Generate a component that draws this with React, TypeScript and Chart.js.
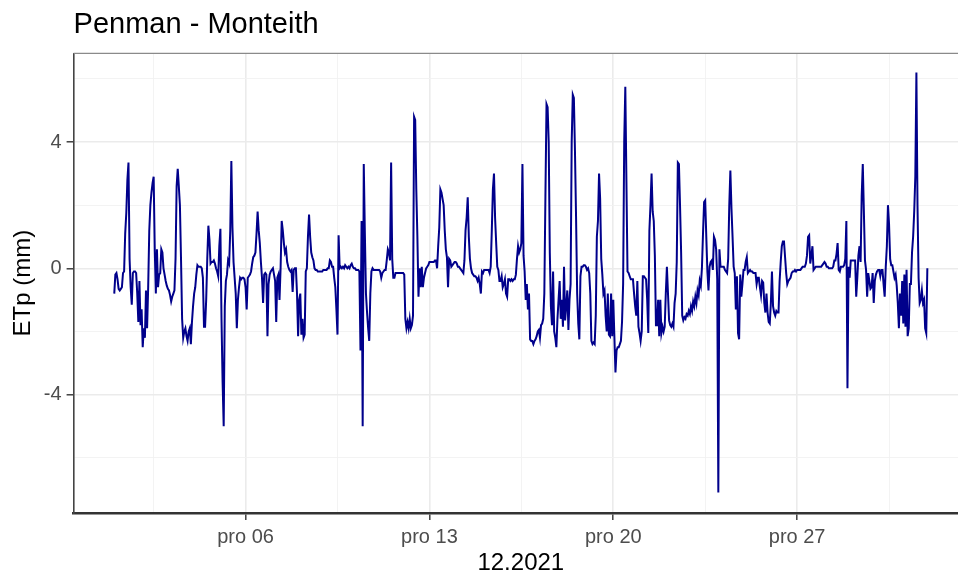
import { useEffect, useRef } from "react";
import { Chart, registerables } from "chart.js";

Chart.register(...registerables);

const TITLE = "Penman - Monteith";
const X_TITLE = "12.2021";
const Y_TITLE = "ETp (mm)";

// hourly ETp values (mm), starting 2021-12-01 00:00, one row per day
const STEP_HOURS = 1;

const week1 = [
  -0.8, -0.2, -0.15, -0.35, -0.65, -0.7, -0.65, -0.6, -0.15, -0.1, 1.1, 1.75, 2.8, 3.35, 0.3, -0.6, -1.15, -0.15, -0.1, -0.1, -0.15, -0.8, -1.7, -0.4,
  -1.8, -1.3, -2.5, -1.9, -2.2, -0.7, -1.9, -0.6, 1.2, 2.0, 2.4, 2.7, 2.9, 0.6, -0.8, 0.6, -0.6, -0.2, -0.15, 0.6, 0.5, 0.0, -0.2, -0.4,
  -0.55, -0.65, -0.7, -0.85, -1.05, -0.9, -0.8, -0.7, 0.3, 2.6, 3.15, 2.6, 2.0, 0.3, -1.6, -2.2, -2.0, -1.9, -2.15, -2.3, -2.0, -1.9, -2.4, -1.7,
  -1.2, -0.8, -0.6, -0.2, 0.1, 0.05, 0.05, 0.05, 0.0, -0.3, -1.85, -1.85, -1.0, 0.3, 1.35, 0.9, 0.15, 0.2, 0.2, 0.25, 0.15, 0.0, -0.1, -0.25,
  0.7, 1.25, -1.6, -3.6, -5.0, -1.2, -0.4, -0.2, 0.25, 0.15, 1.2, 3.4, 1.3, 0.2, -0.3, -0.8, -1.9, -1.0, -0.6, -0.3, -0.35, -0.3, -0.3, -0.35,
  -0.6, -1.3, -0.3, -0.25, -0.2, -0.1, 0.15, 0.35, 0.4, 0.5, 1.1, 1.8, 1.2, 0.8, 0.2, -0.3, -1.1, -0.2, -0.15, -0.2, -2.15, -0.5, -0.2, -0.1,
  -0.05, 0.0, -0.2, -0.4, -1.7, -0.3, -0.2, -1.0, 0.0, 1.5, 1.2, 0.8, 0.5, 0.6, 0.2, 0.05, -0.05, -0.1, -0.05, -0.75, -0.05, 0.0, 0.0, -0.8,
];

const week2 = [
  -2.15, -1.0, -0.8, -2.1, -1.6, -2.2, -2.1, -0.1, 0.0, 1.0, 1.7, 1.0, 0.5, 0.35, 0.25, 0.0, -0.05, -0.05, -0.1, -0.1, -0.1, -0.1, -0.1, -0.05,
  -0.05, -0.05, -0.05, 0.0, 0.0, 0.25, 0.2, 0.05, 0.05, -0.3, -0.6, -1.3, -2.1, 1.05, 0.0, 0.05, 0.0, 0.05, 0.0, 0.1, 0.05, 0.0, 0.05, 0.0,
  0.1, 0.15, 0.05, 0.0, 0.0, -0.05, -0.05, -0.05, -0.1, -2.6, 1.5, -5.0, 3.3, 1.1, -0.8, -1.4, -1.9, -2.3, -0.8, -0.1, 0.0, -0.05, -0.05, -0.05,
  -0.05, -0.05, -0.05, -0.1, -0.3, -0.15, -0.1, -0.05, -0.05, 0.25, 0.6, 0.5, 0.25, 3.35, 0.3, -0.3, -0.3, -0.15, -0.15, -0.15, -0.15, -0.15, -0.15, -0.15,
  -0.15, -0.2, -1.6, -1.9, -1.7, -1.9, -1.6, -1.9, -1.8, -1.5, 4.8, 4.7, 2.5, 1.0, -0.9, 0.0, -0.6, 0.05, -0.6, -0.3, -0.15, 0.0, 0.05, 0.1,
  0.2, 0.2, 0.2, 0.2, 0.2, 0.25, 0.25, 0.0, 0.7, 1.3, 2.5, 2.4, 2.2, 2.0, 1.2, 0.6, 0.35, -0.6, 0.3, 0.25, 0.05, 0.1, 0.15, 0.2,
  0.2, 0.15, 0.05, 0.05, 0.0, -0.05, -0.1, -0.15, 0.25, 1.2, 1.6, 2.25, 1.0, 0.3, 0.0, -0.15, -0.2, -0.25, -0.25, -0.3, -0.4, -0.3, -0.5, -0.8,
];

const week3 = [
  -0.1, -0.15, -0.05, -0.05, -0.05, -0.05, -0.05, -0.15, 0.05, 1.2, 2.5, 3.0, 1.6, 0.8, 0.05, -0.05, -0.4, -0.4, -0.25, -0.6, -0.5, -0.35, -0.8, -0.9,
  -0.35, -0.35, -0.4, -0.35, -0.4, -0.35, -0.35, -0.2, 0.3, 0.7, 0.5, 0.6, 0.8, 3.3, 0.4, -0.1, -1.0, -0.5, -1.3, -0.8, -2.25, -2.3, -2.3, -2.4,
  -2.3, -2.25, -2.15, -2.0, -1.95, -2.2, -1.8, -1.75, -1.6, -0.8, 2.3, 5.2, 5.1, 4.0, 0.5, -1.2, -1.8, -0.1, -2.0, -2.2, -2.5, -1.6, -1.0, -0.4,
  -1.6, -1.0, -1.85, 0.05, -1.65, -1.2, -0.7, -1.95, -1.0, -0.5, 4.0, 5.5, 5.4, 3.7, 1.6, -0.8, -1.75, -2.25, -0.25, 0.05, 0.05, 0.1, 0.1, 0.05,
  -0.05, 0.0, -0.15, -0.8, -2.3, -2.4, -2.35, -2.4, -1.5, 1.0, 1.5, 3.0, 2.2, 0.3, -0.2, -0.8, -0.7, -1.5, -2.0, -0.8, -2.1, -2.15, -0.8, -2.15,
  -1.0, -2.15, -3.3, -2.6, -2.5, -2.5, -2.4, -2.3, -1.7, -0.5, 4.0, 5.75, 2.8, -0.1, -0.15, -0.25, -0.35, -0.35, -0.35, -0.8, -1.2, -1.5, -0.4, -1.85,
  -2.05, -2.3, -2.0, -0.25, -0.25, -0.3, -0.35, -1.0, -2.05, 1.2, 2.0, 3.0, 1.8, 1.5, 0.4, -1.8, -1.8, -1.0, -2.15, -1.0, -2.05, -1.85, -2.0, -1.85,
];

const week4 = [
  -0.8, 0.05, -0.8, -1.65, -1.8, -1.85, -1.75, -1.85, -1.1, -0.8, 0.2, 3.35, 3.3, 2.0, 0.5, -1.5, -1.65, -1.55, -1.6, -1.45, -1.5, -1.35, -1.45, -1.2,
  -1.35, -1.05, -1.2, -0.9, -1.1, -0.7, -0.85, -0.4, -0.55, 0.0, 1.1, 2.1, 2.15, 1.0, -0.1, -0.7, 0.05, 0.2, 0.25, -0.05, 1.0, 0.9, 0.6, -0.35,
  -7.1, 0.6, 0.05, 0.05, 0.05, 0.05, -0.05, -0.1, -0.15, 0.3, 2.0, 3.1, 1.9, 1.0, 0.05, -0.15, -1.3, -0.25, -2.05, -2.25, -0.2, -0.9, -0.5, -0.05,
  -0.05, 0.2, 0.35, -0.15, -0.1, -0.05, -0.1, -0.1, -0.15, -0.15, -0.15, -0.5, -0.3, -0.3, -0.6, -0.85, -0.4, -0.45, -1.1, -1.4, -0.8, -1.4, -1.7, -1.75,
  -1.1, -0.1, -1.2, -1.4, -1.5, -1.35, -1.4, -1.4, -0.4, 0.2, 0.7, 0.85, 0.85, 0.35, -0.15, -0.5, -0.4, -0.35, -0.3, -0.15, -0.1, -0.1, -0.05, -0.1,
  -0.05, -0.05, -0.05, -0.05, 0.0, 0.05, 0.05, 0.05, 0.15, 0.4, 1.0, 1.05, 0.15, 0.4, 0.7, -0.05, 0.0, 0.05, 0.05, 0.05, 0.05, 0.05, 0.05, 0.1,
  0.15, 0.2, 0.15, 0.05, 0.05, 0.0, 0.0, 0.0, 0.0, 0.05, 0.25, 0.25, 0.45, 0.8, -0.05, -0.1, 0.05, 0.05, 0.05, 0.1, 0.3, 1.5, -3.8, 0.05,
];

const week5 = [
  -0.3, 0.25, 0.25, 0.25, 0.25, 0.25, -0.9, -0.3, 0.4, 0.7, 0.2, 2.3, 3.3, 1.8, 0.25, -0.05, -0.9, -0.15, -0.4, -0.65, -0.6, -0.15, -1.1, -0.4,
  -0.2, -0.1, -0.05, -0.05, -0.25, -0.05, -0.05, -0.5, -0.9, 0.05, 0.7, 2.0, 1.4, 0.3, 0.1, 0.1, -0.1, -0.3, -0.2, -0.55, -1.1, -1.9, -0.8, -1.5,
  -0.4, -1.75, -0.2, -1.85, -0.05, -2.15, -1.9, -0.5, -0.5, 0.5, 1.0, 1.8, 2.9, 6.2, 2.0, -0.3, -1.1, -1.0, -0.7, -1.1, -1.0, -1.9, -2.05, 0.0,
];

// x axis: day-of-month breaks and their labels
const majorDays = [6, 13, 20, 27];
const majorLabels = ["pro 06", "pro 13", "pro 20", "pro 27"];
// y axis breaks
const yMajor = [-4, 0, 4];
const yMinor = [-6, -2, 2, 6];

const FONT = "'Liberation Sans', Arial, Helvetica, sans-serif";

export default function App() {
  const ref = useRef<HTMLCanvasElement>(null);

  useEffect(() => {
    if (!ref.current) return;
    const values = [...week1, ...week2, ...week3, ...week4, ...week5];
    const points = values.map((v, i) => ({ x: i * STEP_HOURS, y: v }));

    const majorHours = majorDays.map((d) => (d - 1) * 24);
    const weekH = 7 * 24;
    const minorHours = [majorHours[0] - weekH / 2, ...majorHours.map((h) => h + weekH / 2)];
    const xTicks = [...majorHours, ...minorHours].sort((a, b) => a - b);
    const yTicks = [...yMajor, ...yMinor].sort((a, b) => a - b);

    const isXMajor = (v: number) => majorHours.includes(v);
    const isYMajor = (v: number) => yMajor.includes(v);

    const panelTop = {
      id: "panelTop",
      afterDatasetsDraw(chart: any) {
        const { ctx, chartArea } = chart;
        ctx.save();
        ctx.strokeStyle = "#8a8a8a";
        ctx.lineWidth = 1.2;
        ctx.beginPath();
        ctx.moveTo(chartArea.left, chartArea.top);
        ctx.lineTo(chartArea.right, chartArea.top);
        ctx.stroke();
        ctx.restore();
      },
    };

    const chart = new Chart(ref.current, {
      type: "line",
      data: {
        datasets: [
          {
            data: points,
            borderColor: "#00008B",
            borderWidth: 2,
            pointRadius: 0,
            fill: false,
            tension: 0,
          },
        ],
      },
      options: {
        animation: false,
        responsive: false,
        events: [],
        layout: { padding: { left: 0, right: 8, top: 0, bottom: 0 } },
        plugins: {
          legend: { display: false },
          tooltip: { enabled: false },
          title: {
            display: true,
            text: TITLE,
            align: "start",
            fullSize: false,
            color: "#000000",
            font: { family: FONT, size: 29, weight: "normal", lineHeight: 1.2 },
            padding: { top: 7.6, bottom: 10.9 },
          },
        },
        scales: {
          x: {
            type: "linear",
            min: -37.15,
            max: 780.15,
            afterBuildTicks: (s: any) => {
              s.ticks = xTicks.map((value) => ({ value }));
            },
            afterFit: (s: any) => {
              s.height = 65;
            },
            ticks: {
              autoSkip: false,
              maxRotation: 0,
              minRotation: 0,
              padding: 5,
              color: "#4d4d4d",
              font: { family: FONT, size: 20 },
              callback: (v: any) => {
                const i = majorHours.indexOf(Number(v));
                return i >= 0 ? majorLabels[i] : "";
              },
            },
            grid: {
              color: (c: any) => (c.tick && isXMajor(c.tick.value) ? "#ebebeb" : "#f2f2f2"),
              lineWidth: (c: any) => (c.tick && isXMajor(c.tick.value) ? 1.6 : 0.9),
              tickLength: 7,
              tickWidth: 1.4,
              tickColor: (c: any) => (c.tick && isXMajor(c.tick.value) ? "#333333" : "rgba(0,0,0,0)"),
            },
            border: { display: true, color: "#333333", width: 2.5 },
            title: {
              display: true,
              text: X_TITLE,
              color: "#000000",
              font: { family: FONT, size: 24, lineHeight: 1.2 },
              padding: { top: 0, bottom: 0 },
            },
          },
          y: {
            type: "linear",
            min: -7.75,
            max: 6.81,
            afterBuildTicks: (s: any) => {
              s.ticks = yTicks.map((value) => ({ value }));
            },
            afterFit: (s: any) => {
              s.width = 73.6;
            },
            ticks: {
              autoSkip: false,
              padding: 5,
              color: "#4d4d4d",
              font: { family: FONT, size: 20 },
              callback: (v: any) => (isYMajor(Number(v)) ? String(v) : ""),
            },
            grid: {
              color: (c: any) => (c.tick && isYMajor(c.tick.value) ? "#ebebeb" : "#f2f2f2"),
              lineWidth: (c: any) => (c.tick && isYMajor(c.tick.value) ? 1.6 : 0.9),
              tickLength: 7,
              tickWidth: 1.4,
              tickColor: (c: any) => (c.tick && isYMajor(c.tick.value) ? "#333333" : "rgba(0,0,0,0)"),
            },
            border: { display: true, color: "#444444", width: 1.6 },
            title: {
              display: true,
              text: Y_TITLE,
              color: "#000000",
              font: { family: FONT, size: 24, lineHeight: 1.2 },
              padding: { top: 9, bottom: 0 },
            },
          },
        },
      },
      plugins: [panelTop],
    } as any);

    return () => chart.destroy();
  }, []);

  return (
    <div
      style={{
        position: "absolute",
        left: 0,
        top: 0,
        width: 958,
        height: 578,
        overflow: "hidden",
        background: "#ffffff",
      }}
    >
      <canvas ref={ref} width={976} height={578} style={{ display: "block" }} />
    </div>
  );
}
